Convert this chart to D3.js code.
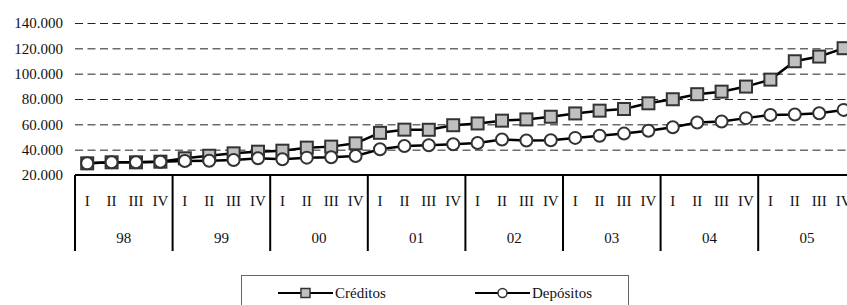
<!DOCTYPE html>
<html>
<head>
<meta charset="utf-8">
<script src="https://cdn.jsdelivr.net/npm/d3@7"></script>
<style>
  body { margin: 0; background: #fff; }
</style>
</head>
<body>
<div id="chart"></div>
<script>
const years = ['98', '99', '00', '01', '02', '03', '04', '05']
const quarters = ['I', 'II', 'III', 'IV']
const yTicks = [20000, 40000, 60000, 80000, 100000, 120000, 140000]

const creditos = [
    29200, 30000, 30000, 30500,
    33200, 35200, 37100, 38400,
    39200, 41600, 42400, 45000,
    53300, 55800, 55700, 59300,
    60700, 62900, 63900, 66000,
    68600, 70800, 72100, 76600,
    79800, 83800, 85800, 89800,
    95300, 109800, 113500, 120100
]
const depositos = [
    29200, 30000, 30000, 30500,
    31100, 31300, 31900, 33200,
    32400, 33700, 34000, 35000,
    40300, 42900, 43500, 44300,
    45300, 48000, 47200, 47400,
    49300, 51000, 52700, 54900,
    57700, 61500, 62200, 64900,
    67400, 67800, 68700, 71400
]

const serif = 'Liberation Serif, Times New Roman, serif'

function draw(el) {
    const dimensions = {
        width: 847,
        height: 305,
        left: 75,
        plotTop: 23,
        axisY: 175,
        axisBottom: 251,
    }

    const n = years.length * quarters.length
    const x = d3.scaleBand()
        .domain(d3.range(n))
        .range([dimensions.left, dimensions.left + 24.4 * n])
        .padding(0)

    const y = d3.scaleLinear()
        .domain([20000, 140000])
        .range([dimensions.axisY, dimensions.plotTop])

    const locale = d3.formatLocale({ decimal: ',', thousands: '.', grouping: [3], currency: ['', ''] })
    const fmt = locale.format(',d')

    const svg = d3.select(el)
        .append('svg')
        .attr('width', dimensions.width)
        .attr('height', dimensions.height)
        .attr('font-family', serif)

    // gridlines + labels
    const yAxis = svg.append('g')
        .attr('transform', `translate(${dimensions.left}, 0)`)
        .call(d3.axisLeft(y)
            .tickValues(yTicks)
            .tickFormat(fmt)
            .tickSize(-(dimensions.width - dimensions.left))
            .tickPadding(12))
        .attr('font-family', serif)
        .attr('font-size', 15)
    yAxis.select('.domain').remove()
    yAxis.selectAll('.tick line')
        .attr('stroke', '#222')
        .attr('stroke-dasharray', '8,4.5')
        .attr('stroke-width', 1)
        .filter(d => d === 20000).remove()
    yAxis.selectAll('.tick text')
        .attr('fill', '#111')

    // category axis
    const cat = svg.append('g').attr('stroke', '#000').attr('stroke-width', 2)
    cat.append('line')
        .attr('x1', dimensions.left).attr('x2', dimensions.width)
        .attr('y1', dimensions.axisY).attr('y2', dimensions.axisY)
    cat.selectAll('line.sep')
        .data(years)
        .join('line')
        .attr('class', 'sep')
        .attr('x1', (d, i) => x(i * 4))
        .attr('x2', (d, i) => x(i * 4))
        .attr('y1', dimensions.axisY)
        .attr('y2', dimensions.axisBottom)

    svg.append('g')
        .attr('font-family', serif)
        .attr('font-size', 15)
        .selectAll('text')
        .data(d3.range(n))
        .join('text')
        .attr('x', d => x(d) + x.bandwidth() / 2)
        .attr('y', 201)
        .attr('dy', '0.35em')
        .attr('text-anchor', 'middle')
        .attr('fill', '#111')
        .text(d => quarters[d % 4])

    svg.append('g')
        .attr('font-family', serif)
        .attr('font-size', 15)
        .selectAll('text')
        .data(years)
        .join('text')
        .attr('x', (d, i) => x(i * 4) + x.bandwidth() * 2)
        .attr('y', 238)
        .attr('dy', '0.35em')
        .attr('text-anchor', 'middle')
        .attr('fill', '#111')
        .text(d => d)

    const line = d3.line()
        .x((d, i) => x(i) + x.bandwidth() / 2)
        .y(d => y(d))

    // series lines
    svg.append('path')
        .datum(creditos)
        .attr('fill', 'none')
        .attr('stroke', '#000')
        .attr('stroke-width', 2.5)
        .attr('d', line)
    svg.append('path')
        .datum(depositos)
        .attr('fill', 'none')
        .attr('stroke', '#000')
        .attr('stroke-width', 2.5)
        .attr('d', line)

    const sq = 12
    svg.append('g')
        .selectAll('rect')
        .data(creditos)
        .join('rect')
        .attr('x', (d, i) => x(i) + x.bandwidth() / 2 - sq / 2)
        .attr('y', d => y(d) - sq / 2)
        .attr('width', sq)
        .attr('height', sq)
        .attr('fill', '#c0c0c0')
        .attr('stroke', '#333')
        .attr('stroke-width', 2)

    svg.append('g')
        .selectAll('circle')
        .data(depositos)
        .join('circle')
        .attr('cx', (d, i) => x(i) + x.bandwidth() / 2)
        .attr('cy', d => y(d))
        .attr('r', 6)
        .attr('fill', '#fff')
        .attr('stroke', '#333')
        .attr('stroke-width', 2)

    // legend
    const legend = svg.append('g')
        .attr('font-family', serif)
        .attr('font-size', 15)
    legend.append('rect')
        .attr('x', 241.5).attr('y', 275.5)
        .attr('width', 387).attr('height', 40)
        .attr('fill', 'none')
        .attr('stroke', '#666')
        .attr('stroke-width', 1)

    const items = [
        { name: 'Créditos', x: 278, shape: 'rect' },
        { name: 'Depósitos', x: 475, shape: 'circle' },
    ]
    const ly = 293
    items.forEach(it => {
        legend.append('line')
            .attr('x1', it.x).attr('x2', it.x + 55)
            .attr('y1', ly).attr('y2', ly)
            .attr('stroke', '#000').attr('stroke-width', 2)
        if (it.shape === 'rect') {
            legend.append('rect')
                .attr('x', it.x + 27.5 - 4.5).attr('y', ly - 4.5)
                .attr('width', 9).attr('height', 9)
                .attr('fill', '#c0c0c0').attr('stroke', '#333').attr('stroke-width', 1.5)
        } else {
            legend.append('circle')
                .attr('cx', it.x + 27.5).attr('cy', ly)
                .attr('r', 4.5)
                .attr('fill', '#fff').attr('stroke', '#333').attr('stroke-width', 1.5)
        }
        legend.append('text')
            .attr('x', it.x + 57).attr('y', ly)
            .attr('dy', '0.35em')
            .attr('fill', '#111')
            .text(it.name)
    })
}

draw('#chart')
</script>
</body>
</html>
